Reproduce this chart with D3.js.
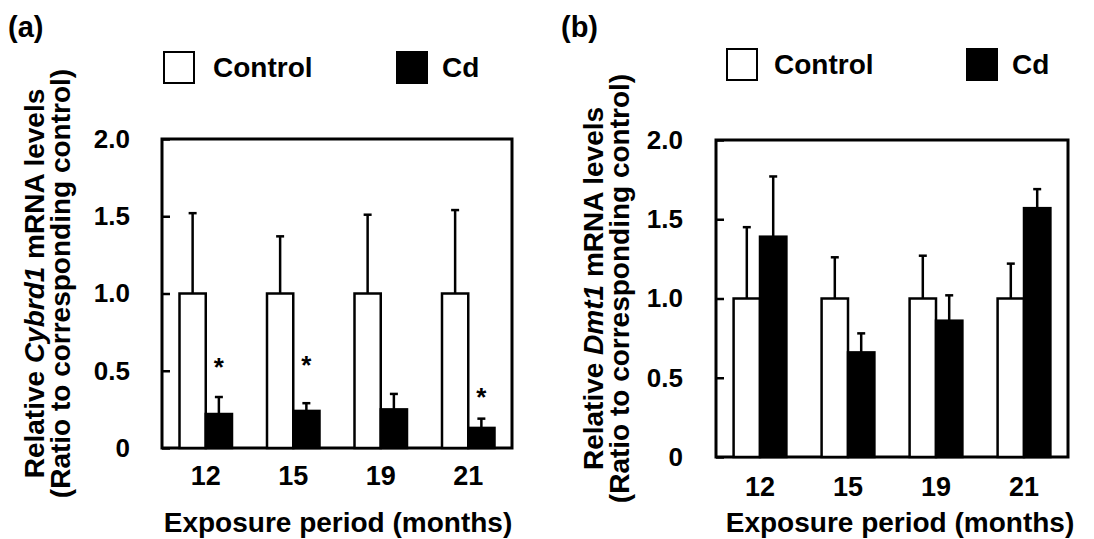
<!DOCTYPE html>
<html>
<head>
<meta charset="utf-8">
<script src="https://cdn.jsdelivr.net/npm/d3@7"></script>
<style>
  body { margin: 0; background: #fff; }
  text { font-family: "Liberation Sans", Arial, Helvetica, sans-serif; font-weight: bold; fill: #000; }
</style>
</head>
<body>
<div id="chart"></div>
<script>
// data
const months = ["12", "15", "19", "21"];
const groups = ["Control", "Cd"];
const yTicks = [0, 0.5, 1.0, 1.5, 2.0];
const yTickLabels = ["0", "0.5", "1.0", "1.5", "2.0"];

const cybrd1Control = [1.0, 1.0, 1.0, 1.0];
const cybrd1ControlSd = [0.52, 0.37, 0.51, 0.54];
const cybrd1Cd = [0.22, 0.24, 0.25, 0.13];
const cybrd1CdSd = [0.11, 0.05, 0.10, 0.06];
const cybrd1Star = [0.55, 0.565, null, 0.355]; // level of the * marks

const dmt1Control = [1.0, 1.0, 1.0, 1.0];
const dmt1ControlSd = [0.45, 0.26, 0.27, 0.22];
const dmt1Cd = [1.39, 0.66, 0.86, 1.57];
const dmt1CdSd = [0.38, 0.12, 0.16, 0.12];
const dmt1Star = [null, null, null, null];

const svg = d3
  .select("#chart")
  .append("svg")
  .attr("width", 1094)
  .attr("height", 539);

function drawPanel(p) {
  const x = d3.scaleBand().domain(months).range([p.left, p.right]).paddingInner(0.4).paddingOuter(0.2);
  const xSub = d3.scaleBand().domain(groups).range([0, x.bandwidth()]);
  const y = d3.scaleLinear().domain([0, 2]).range([p.bottom, p.top]);

  const g = svg.append("g");

  // frame
  g.append("rect")
    .attr("x", p.left)
    .attr("y", p.top)
    .attr("width", p.right - p.left)
    .attr("height", p.bottom - p.top)
    .attr("fill", "none")
    .attr("stroke", "#000")
    .attr("stroke-width", 3);

  const rows = months.map((m, i) => [
    { m: m, k: "Control", v: p.control[i], sd: p.controlSd[i] },
    { m: m, k: "Cd", v: p.cd[i], sd: p.cdSd[i] }
  ]).flat();

  const cx = (d) => x(d.m) + xSub(d.k) + xSub.bandwidth() / 2;

  // error bars (upper only)
  g.selectAll(".err")
    .data(rows)
    .enter()
    .append("line")
    .attr("x1", cx)
    .attr("x2", cx)
    .attr("y1", (d) => y(d.v))
    .attr("y2", (d) => y(d.v + d.sd))
    .attr("stroke", "#000")
    .attr("stroke-width", 2.5);

  g.selectAll(".cap")
    .data(rows)
    .enter()
    .append("line")
    .attr("x1", (d) => cx(d) - 4)
    .attr("x2", (d) => cx(d) + 4)
    .attr("y1", (d) => y(d.v + d.sd))
    .attr("y2", (d) => y(d.v + d.sd))
    .attr("stroke", "#000")
    .attr("stroke-width", 2.5);

  g.selectAll(".bar")
    .data(rows)
    .enter()
    .append("rect")
    .attr("x", (d) => x(d.m) + xSub(d.k))
    .attr("width", xSub.bandwidth())
    .attr("y", (d) => y(d.v))
    .attr("height", (d) => y(0) - y(d.v))
    .attr("fill", (d) => (d.k === "Cd" ? "#000" : "#fff"))
    .attr("stroke", "#000")
    .attr("stroke-width", 2.5);

  // significance marks
  months.forEach((m, i) => {
    if (p.star[i] == null) return;
    g.append("text")
      .attr("x", x(m) + xSub("Cd") + xSub.bandwidth() / 2)
      .attr("y", y(p.star[i]) + 13)
      .attr("text-anchor", "middle")
      .style("font-size", "26px")
      .text("*");
  });

  // y axis, ticks pointing inward
  const yAxis = d3
    .axisLeft(y)
    .tickValues(yTicks)
    .tickFormat((d, i) => yTickLabels[i])
    .tickSize(-8)
    .tickPadding(p.yPad);
  const ya = g.append("g").attr("transform", "translate(" + p.left + ",0)").call(yAxis);
  ya.select(".domain").remove();
  ya.selectAll("line").attr("stroke", "#000").attr("stroke-width", 2.5);
  ya.selectAll("text").style("font-size", "26px").style("font-family", "Liberation Sans, Arial, sans-serif").style("font-weight", "bold");

  const xAxis = d3.axisBottom(x).tickSize(0).tickPadding(p.xPad);
  const xa = g.append("g").attr("transform", "translate(0," + p.bottom + ")").call(xAxis);
  xa.select(".domain").remove();
  xa.selectAll("text").style("font-size", "27px").style("font-family", "Liberation Sans, Arial, sans-serif").style("font-weight", "bold");

  // x title
  g.append("text")
    .attr("x", p.xTitleX)
    .attr("y", 532)
    .attr("text-anchor", "middle")
    .style("font-size", "28px")
    .text("Exposure period (months)");

  // y title, two lines
  const cy = (p.top + p.bottom) / 2 - 10;
  const t1 = g.append("text")
    .attr("transform", "translate(" + p.yTitleX1 + "," + cy + ") rotate(-90)")
    .attr("text-anchor", "middle")
    .style("font-size", "28px");
  t1.append("tspan").text("Relative ");
  t1.append("tspan").style("font-style", "italic").text(p.gene);
  t1.append("tspan").text(" mRNA levels");

  g.append("text")
    .attr("transform", "translate(" + p.yTitleX2 + "," + cy + ") rotate(-90)")
    .attr("text-anchor", "middle")
    .style("font-size", "28px")
    .text("(Ratio to corresponding control)");

  // panel letter
  g.append("text")
    .attr("x", p.letterX)
    .attr("y", 37)
    .style("font-size", "29px")
    .text(p.letter);

  // legend
  const lg = g.append("g").attr("transform", "translate(0," + p.legendY + ")");
  groups.forEach((k, i) => {
    lg.append("rect")
      .attr("x", p.legendX[i])
      .attr("y", 0)
      .attr("width", 30)
      .attr("height", 31)
      .attr("fill", k === "Cd" ? "#000" : "#fff")
      .attr("stroke", "#000")
      .attr("stroke-width", 2);
    lg.append("text")
      .attr("x", p.legendX[i] + p.legendGap[i])
      .attr("y", 25)
      .style("font-size", "28px")
      .text(k);
  });
}

drawPanel({
  left: 162, right: 512, top: 139, bottom: 448,
  control: cybrd1Control, controlSd: cybrd1ControlSd,
  cd: cybrd1Cd, cdSd: cybrd1CdSd, star: cybrd1Star,
  gene: "Cybrd1", letter: "(a)", letterX: 8,
  yPad: 32, xPad: 18, xTitleX: 338,
  yTitleX1: 44, yTitleX2: 70,
  legendX: [164, 397], legendGap: [49, 45], legendY: 52
});

drawPanel({
  left: 716, right: 1068, top: 140, bottom: 457,
  control: dmt1Control, controlSd: dmt1ControlSd,
  cd: dmt1Cd, cdSd: dmt1CdSd, star: dmt1Star,
  gene: "Dmt1", letter: "(b)", letterX: 561,
  yPad: 33, xPad: 20, xTitleX: 900,
  yTitleX1: 603, yTitleX2: 629,
  legendX: [727, 967], legendGap: [47, 45], legendY: 49
});
</script>
</body>
</html>
